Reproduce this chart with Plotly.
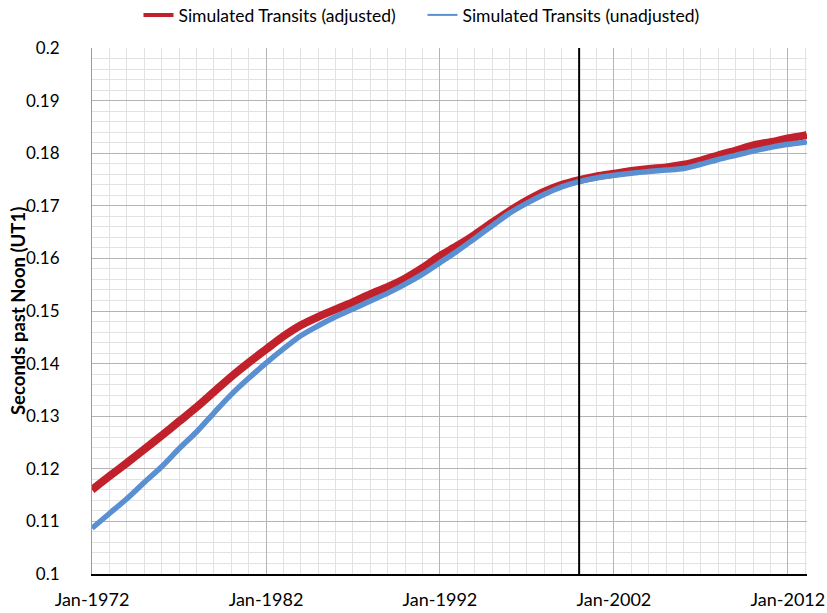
import plotly.graph_objects as go

DATES = ['%d-01-01' % y for y in range(1972, 2014)] + ['2013-02-05']

ADJUSTED = [0.1160, 0.1186, 0.1211, 0.1237, 0.1263, 0.1290, 0.1317, 0.1346,
            0.1375, 0.1402, 0.1427, 0.1452, 0.1473, 0.1489, 0.1503, 0.1517,
            0.1532, 0.1546, 0.1562, 0.1582, 0.1605, 0.1624, 0.1645, 0.1668,
            0.1690, 0.1710, 0.1727, 0.1740, 0.1749, 0.1756, 0.1761, 0.1766,
            0.1770, 0.1773, 0.1778, 0.1786, 0.1796, 0.1805, 0.1815, 0.1821,
            0.1828, 0.1834, 0.1835]

UNADJUSTED = [0.1087, 0.1115, 0.1143, 0.1174, 0.1204, 0.1238, 0.1270, 0.1306,
              0.1341, 0.1372, 0.1401, 0.1428, 0.1453, 0.1472, 0.1489, 0.1504,
              0.1519, 0.1534, 0.1551, 0.1570, 0.1592, 0.1614, 0.1638, 0.1662,
              0.1686, 0.1705, 0.1722, 0.1736, 0.1746, 0.1753, 0.1758, 0.1762,
              0.1765, 0.1768, 0.1771, 0.1779, 0.1788, 0.1796, 0.1804, 0.1811,
              0.1817, 0.1821, 0.1822]

MARKER_DATE = '2000-01-01'
Y_TITLE = '<b>Seconds past Noon (UT1)</b>'
RED = '#c0212b'
BLUE = '#5a8fd2'
FONT = "Lato, 'Open Sans', sans-serif"

fig = go.Figure()
fig.add_trace(go.Scatter(
    x=DATES, y=ADJUSTED,
    mode='lines', showlegend=False,
    line=dict(color=RED, width=8, shape='spline', smoothing=0.8),
))
fig.add_trace(go.Scatter(
    x=DATES, y=UNADJUSTED,
    mode='lines', showlegend=False,
    line=dict(color=BLUE, width=5.5, shape='spline', smoothing=0.8),
))
# legend entries with thinner keys, as in the original
fig.add_trace(go.Scatter(
    x=[None], y=[None], mode='lines',
    name="Simulated Transits (adjusted)",
    line=dict(color=RED, width=4),
))
fig.add_trace(go.Scatter(
    x=[None], y=[None], mode='lines',
    name="Simulated Transits (unadjusted)",
    line=dict(color=BLUE, width=2),
))

fig.add_shape(type='line', xref='x', yref='paper',
              x0=MARKER_DATE, x1=MARKER_DATE, y0=0, y1=1,
              line=dict(color='black', width=2))

# y title placed by hand so it sits clear of the tick labels
fig.add_annotation(text=Y_TITLE, textangle=-90, showarrow=False,
                   xref='paper', yref='paper', x=-0.1035, y=0.5,
                   xanchor='center', yanchor='middle',
                   font=dict(size=18.5))

fig.update_traces(hoverinfo='skip', selector=dict(type='scatter'))
fig.update_layout(
    width=827, height=613,
    margin={'l': 92, 'b': 39, 'r': 20, 't': 48, 'autoexpand': False},
    paper_bgcolor='white', plot_bgcolor='white',
    font=dict(family=FONT, size=17, color='black'),
    showlegend=True,
    legend=dict(orientation='h', x=0.065, xanchor='left', y=1.0627,
                yanchor='middle', font=dict(size=17.5),
                entrywidth=239, bgcolor='rgba(0,0,0,0)'),
)
fig.update_xaxes(
    type='date',
    range=['1972-01-01', '2013-02-05'],
    tick0='1972-01-01', dtick='M120', tickformat='%b-%Y',
    tickfont=dict(size=18),
    showgrid=True, gridcolor='#b4b4b4', gridwidth=1,
    minor=dict(dtick='M12', showgrid=True, gridcolor='#e2e2e2'),
    showline=True, linecolor='black', linewidth=2,
    ticks='', ticklabelstandoff=8,
    zeroline=False, automargin=False,
)
fig.update_yaxes(
    range=[0.1, 0.2],
    dtick=0.01, tick0=0.1,
    showgrid=True, gridcolor='#b4b4b4', gridwidth=1,
    minor=dict(dtick=0.002, showgrid=True, gridcolor='#e2e2e2'),
    showline=True, linecolor='#9a9a9a', linewidth=1,
    ticks='', ticklabelstandoff=28,
    zeroline=False, automargin=False,
)

# drop the browser's default body margin so the figure fills the window
fig.write_html("out.html", config={'displayModeBar': False},
               post_script="document.body.style.margin='0';")
